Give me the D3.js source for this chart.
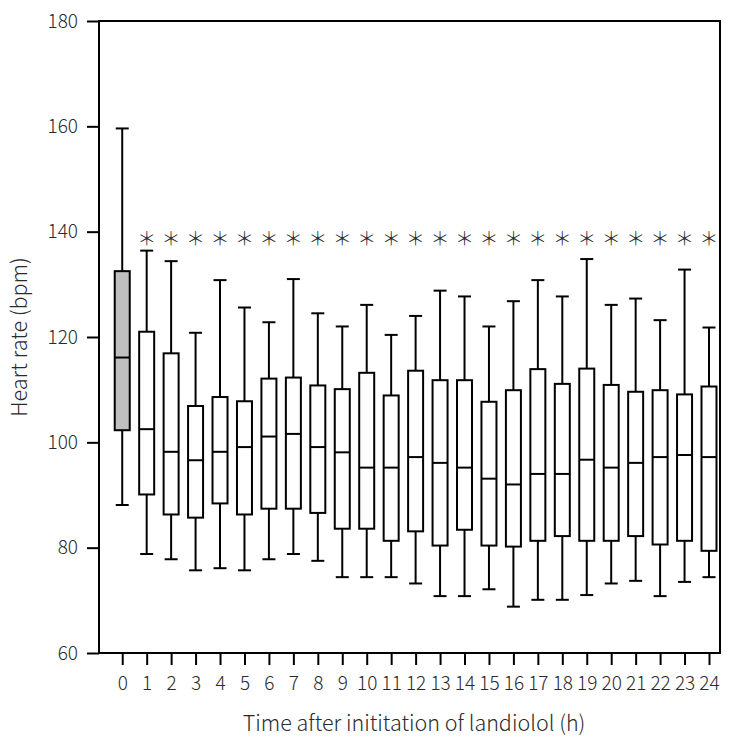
<!DOCTYPE html>
<html>
<head>
<meta charset="utf-8">
<script src="https://cdn.jsdelivr.net/npm/d3@7"></script>
<style>
  body { margin: 0; background: #fff; }
  text { font-family: "Noto Sans CJK JP", "Noto Sans", sans-serif; fill: #2a2a2a; font-weight: 300; }
</style>
</head>
<body>
<svg id="chart" width="750" height="747"></svg>
<script>
const hours   = [0,1,2,3,4,5,6,7,8,9,10,11,12,13,14,15,16,17,18,19,20,21,22,23,24];
const whiskerHigh = [159.6,136.4,134.4,120.8,130.8,125.6,122.8,131.0,124.5,122.0,126.1,120.4,124.0,128.8,127.7,122.0,126.8,130.8,127.7,134.8,126.1,127.3,123.2,132.8,121.8];
const q3      = [132.5,121.0,116.9,106.9,108.6,107.8,112.1,112.3,110.8,110.1,113.2,108.9,113.6,111.8,111.8,107.7,109.9,113.9,111.1,114.0,110.9,109.6,109.9,109.1,110.6];
const median  = [116.1,102.5,98.2,96.6,98.2,99.1,101.1,101.6,99.1,98.1,95.2,95.2,97.2,96.1,95.2,93.1,92.0,94.0,94.0,96.7,95.2,96.1,97.2,97.6,97.2];
const q1      = [102.3,90.1,86.3,85.7,88.4,86.3,87.4,87.4,86.6,83.6,83.6,81.3,83.1,80.4,83.4,80.4,80.2,81.3,82.2,81.3,81.3,82.2,80.6,81.3,79.4];
const whiskerLow = [88.1,78.8,77.8,75.7,76.1,75.7,77.8,78.8,77.5,74.4,74.4,74.4,73.2,70.8,70.8,72.1,68.8,70.1,70.1,71.0,73.2,73.7,70.8,73.5,74.4];
const significant = [false,true,true,true,true,true,true,true,true,true,true,true,true,true,true,true,true,true,true,true,true,true,true,true,true];
const yTicks = [60,80,100,120,140,160,180];
const xLabel = "Time after inititation of landiolol (h)";
const yLabel = "Heart rate (bpm)";
const starLevel = 138.8;

const data = hours.map((h,i)=>({h, hi:whiskerHigh[i], q3:q3[i], med:median[i], q1:q1[i], lo:whiskerLow[i], sig:significant[i]}));

const svg = d3.select("#chart");
const mLeft = 99, mRight = 720, mTop = 21, mBottom = 653;
const x = d3.scaleLinear().domain([-0.95, 24.45]).range([mLeft, mRight]);
const y = d3.scaleLinear().domain([60, 180]).range([mBottom, mTop]);
const boxW = 15, capW = 13;
const fontFam = '"Noto Sans CJK JP", "Noto Sans", sans-serif';

// frame
svg.append("rect").attr("x", mLeft).attr("y", mTop).attr("width", mRight-mLeft).attr("height", mBottom-mTop)
  .attr("fill", "none").attr("stroke", "#000").attr("stroke-width", 2);

// y axis
const yAxis = svg.append("g").attr("transform", `translate(${mLeft},0)`)
  .call(d3.axisLeft(y).tickValues(yTicks).tickSize(12).tickPadding(9).tickFormat(d3.format("d")));
yAxis.select(".domain").remove();
yAxis.selectAll(".tick line").attr("stroke", "#000").attr("stroke-width", 2);
yAxis.selectAll(".tick text").attr("font-size", 19).attr("fill", "#2a2a2a")
  .style("font-family", fontFam).style("font-weight", 300);

// x axis
const xAxis = svg.append("g").attr("transform", `translate(0,${mBottom})`)
  .call(d3.axisBottom(x).tickValues(hours).tickSize(12).tickPadding(12).tickFormat(d3.format("d")));
xAxis.select(".domain").remove();
xAxis.selectAll(".tick line").attr("stroke", "#000").attr("stroke-width", 2);
xAxis.selectAll(".tick text").attr("font-size", 19).attr("fill", "#2a2a2a")
  .style("font-family", fontFam).style("font-weight", 300);

// boxes
const g = svg.append("g");
const bx = g.selectAll("g.box").data(data).join("g").attr("class", "box");
bx.append("line").attr("x1", d=>x(d.h)).attr("x2", d=>x(d.h)).attr("y1", d=>y(d.hi)).attr("y2", d=>y(d.q3))
  .attr("stroke", "#000").attr("stroke-width", 2);
bx.append("line").attr("x1", d=>x(d.h)).attr("x2", d=>x(d.h)).attr("y1", d=>y(d.q1)).attr("y2", d=>y(d.lo))
  .attr("stroke", "#000").attr("stroke-width", 2);
bx.append("line").attr("x1", d=>x(d.h)-capW/2).attr("x2", d=>x(d.h)+capW/2).attr("y1", d=>y(d.hi)).attr("y2", d=>y(d.hi))
  .attr("stroke", "#000").attr("stroke-width", 2);
bx.append("line").attr("x1", d=>x(d.h)-capW/2).attr("x2", d=>x(d.h)+capW/2).attr("y1", d=>y(d.lo)).attr("y2", d=>y(d.lo))
  .attr("stroke", "#000").attr("stroke-width", 2);
bx.append("rect").attr("x", d=>x(d.h)-boxW/2).attr("width", boxW)
  .attr("y", d=>y(d.q3)).attr("height", d=>y(d.q1)-y(d.q3))
  .attr("fill", d=>d.h===0 ? "#c0c0c0" : "#fff").attr("stroke", "#000").attr("stroke-width", 2);
bx.append("line").attr("x1", d=>x(d.h)-boxW/2).attr("x2", d=>x(d.h)+boxW/2).attr("y1", d=>y(d.med)).attr("y2", d=>y(d.med))
  .attr("stroke", "#000").attr("stroke-width", 2);

// significance stars
g.selectAll("text.star").data(data.filter(d=>d.sig)).join("text").attr("class", "star")
  .attr("x", d=>x(d.h)).attr("y", y(starLevel)).attr("text-anchor", "middle").attr("dominant-baseline", "central")
  .attr("font-size", 19).attr("fill", "#444").text("＊");

// labels
svg.append("text").attr("x", 414).attr("y", 731).attr("text-anchor", "middle")
  .attr("font-size", 21.5).text(xLabel);
svg.append("text").attr("transform", `translate(27,${(mTop+mBottom)/2}) rotate(-90)`).attr("text-anchor", "middle")
  .attr("font-size", 21.5).text(yLabel);
</script>
</body>
</html>
